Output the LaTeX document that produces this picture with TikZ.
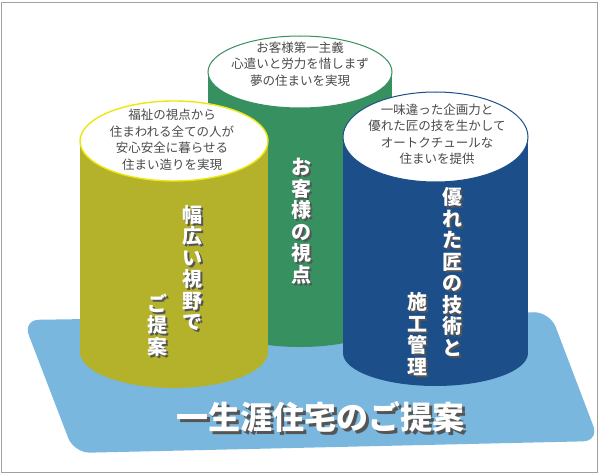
\documentclass[tikz,border=0pt]{standalone}
\usepackage{fontspec}
\newfontfamily\jpfont{Noto Sans CJK JP}
\definecolor{cylOlive}{HTML}{B4B22B}
\definecolor{cylGreen}{HTML}{36905F}
\definecolor{cylBlue}{HTML}{1C4F8A}
\definecolor{baseBlue}{HTML}{79B7DF}
\definecolor{rimYellow}{HTML}{EEE60F}
\definecolor{capGray}{HTML}{4A4A4A}
\definecolor{shadeGray}{HTML}{555555}
\definecolor{frameGray}{HTML}{A0A0A0}

\begin{document}
\begin{tikzpicture}[
    x=1pt, y=-1pt,
    line width=1pt,
    every node/.style={inner sep=0pt},
    captext/.style={font=\jpfont\fontsize{12.5}{16.5}\selectfont, text=capGray, align=center},
    coltext/.style={font=\jpfont\bfseries\fontsize{20}{21.5}\selectfont, text=white, align=center},
    colshade/.style={coltext, text=shadeGray},
    titletext/.style={font=\jpfont\bfseries\fontsize{32}{32}\selectfont, text=white},
    titleshade/.style={titletext, text=shadeGray},
  ]
  \useasboundingbox (0,0) rectangle (600,476);
  \fill[white] (0,0) rectangle (600,476);
  \def\sh{2}

  % The platform under the three cylinders
  \fill[baseBlue, rounded corners=16pt] (23,320) -- (550,312) -- (599,441) -- (74,453) -- cycle;

  % Middle cylinder (back)
  \fill[cylGreen] (208,72) rectangle (392,315);
  \fill[cylGreen] (300,315) ellipse [x radius=92, y radius=32];
  \draw[cylGreen, fill=white] (300,72) ellipse [x radius=92, y radius=36];

  % Left cylinder
  \fill[cylOlive] (80,141) rectangle (268,352);
  \fill[cylOlive] (174,352) ellipse [x radius=94, y radius=36];
  \draw[rimYellow, line width=1.4pt, fill=white] (174,141) ellipse [x radius=94, y radius=40];

  % Right cylinder
  \fill[cylBlue] (343,137) rectangle (528,353);
  \fill[cylBlue] (435.5,353) ellipse [x radius=92.5, y radius=33];
  \draw[cylBlue, fill=white] (435.5,137) ellipse [x radius=92.5, y radius=45];

  % Texts on the tops
  \node[captext] (capGreen) at (300,64) {お客様第一主義\\心遣いと労力を惜しまず\\夢の住まいを実現};
  \node[captext] (capOlive) at (172,140) {福祉の視点から\\住まわれる全ての人が\\安心安全に暮らせる\\住まい造りを実現};
  \node[captext] (capBlue) at (437,134) {一味違った企画力と\\優れた匠の技を生かして\\オートクチュールな\\住まいを提供};

  % Vertical texts on the bodies
  \node[colshade] at (301+\sh,221+\sh) {お\\客\\様\\の\\視\\点};
  \node[coltext] (colGreen) at (301,221) {お\\客\\様\\の\\視\\点};

  \node[colshade] at (192+\sh,268+\sh) {幅\\広\\い\\視\\野\\で};
  \node[coltext] (colOliveA) at (192,268) {幅\\広\\い\\視\\野\\で};
  \node[colshade] at (157+\sh,325+\sh) {ご\\提\\案};
  \node[coltext] (colOliveB) at (157,325) {ご\\提\\案};

  \node[colshade] at (452+\sh,272+\sh) {優\\れ\\た\\匠\\の\\技\\術\\と};
  \node[coltext] (colBlueA) at (452,272) {優\\れ\\た\\匠\\の\\技\\術\\と};
  \node[colshade] at (417+\sh,334+\sh) {施\\工\\管\\理};
  \node[coltext] (colBlueB) at (417,334) {施\\工\\管\\理};

  % Title on the platform
  \node[titleshade] at (320+3,417+3) {一生涯住宅のご提案};
  \node[titletext] (title) at (320,417) {一生涯住宅のご提案};

  % Frame
  \draw[frameGray, line width=1.6pt] (1.5,2.5) rectangle (597.5,472.5);
\end{tikzpicture}
\end{document}
